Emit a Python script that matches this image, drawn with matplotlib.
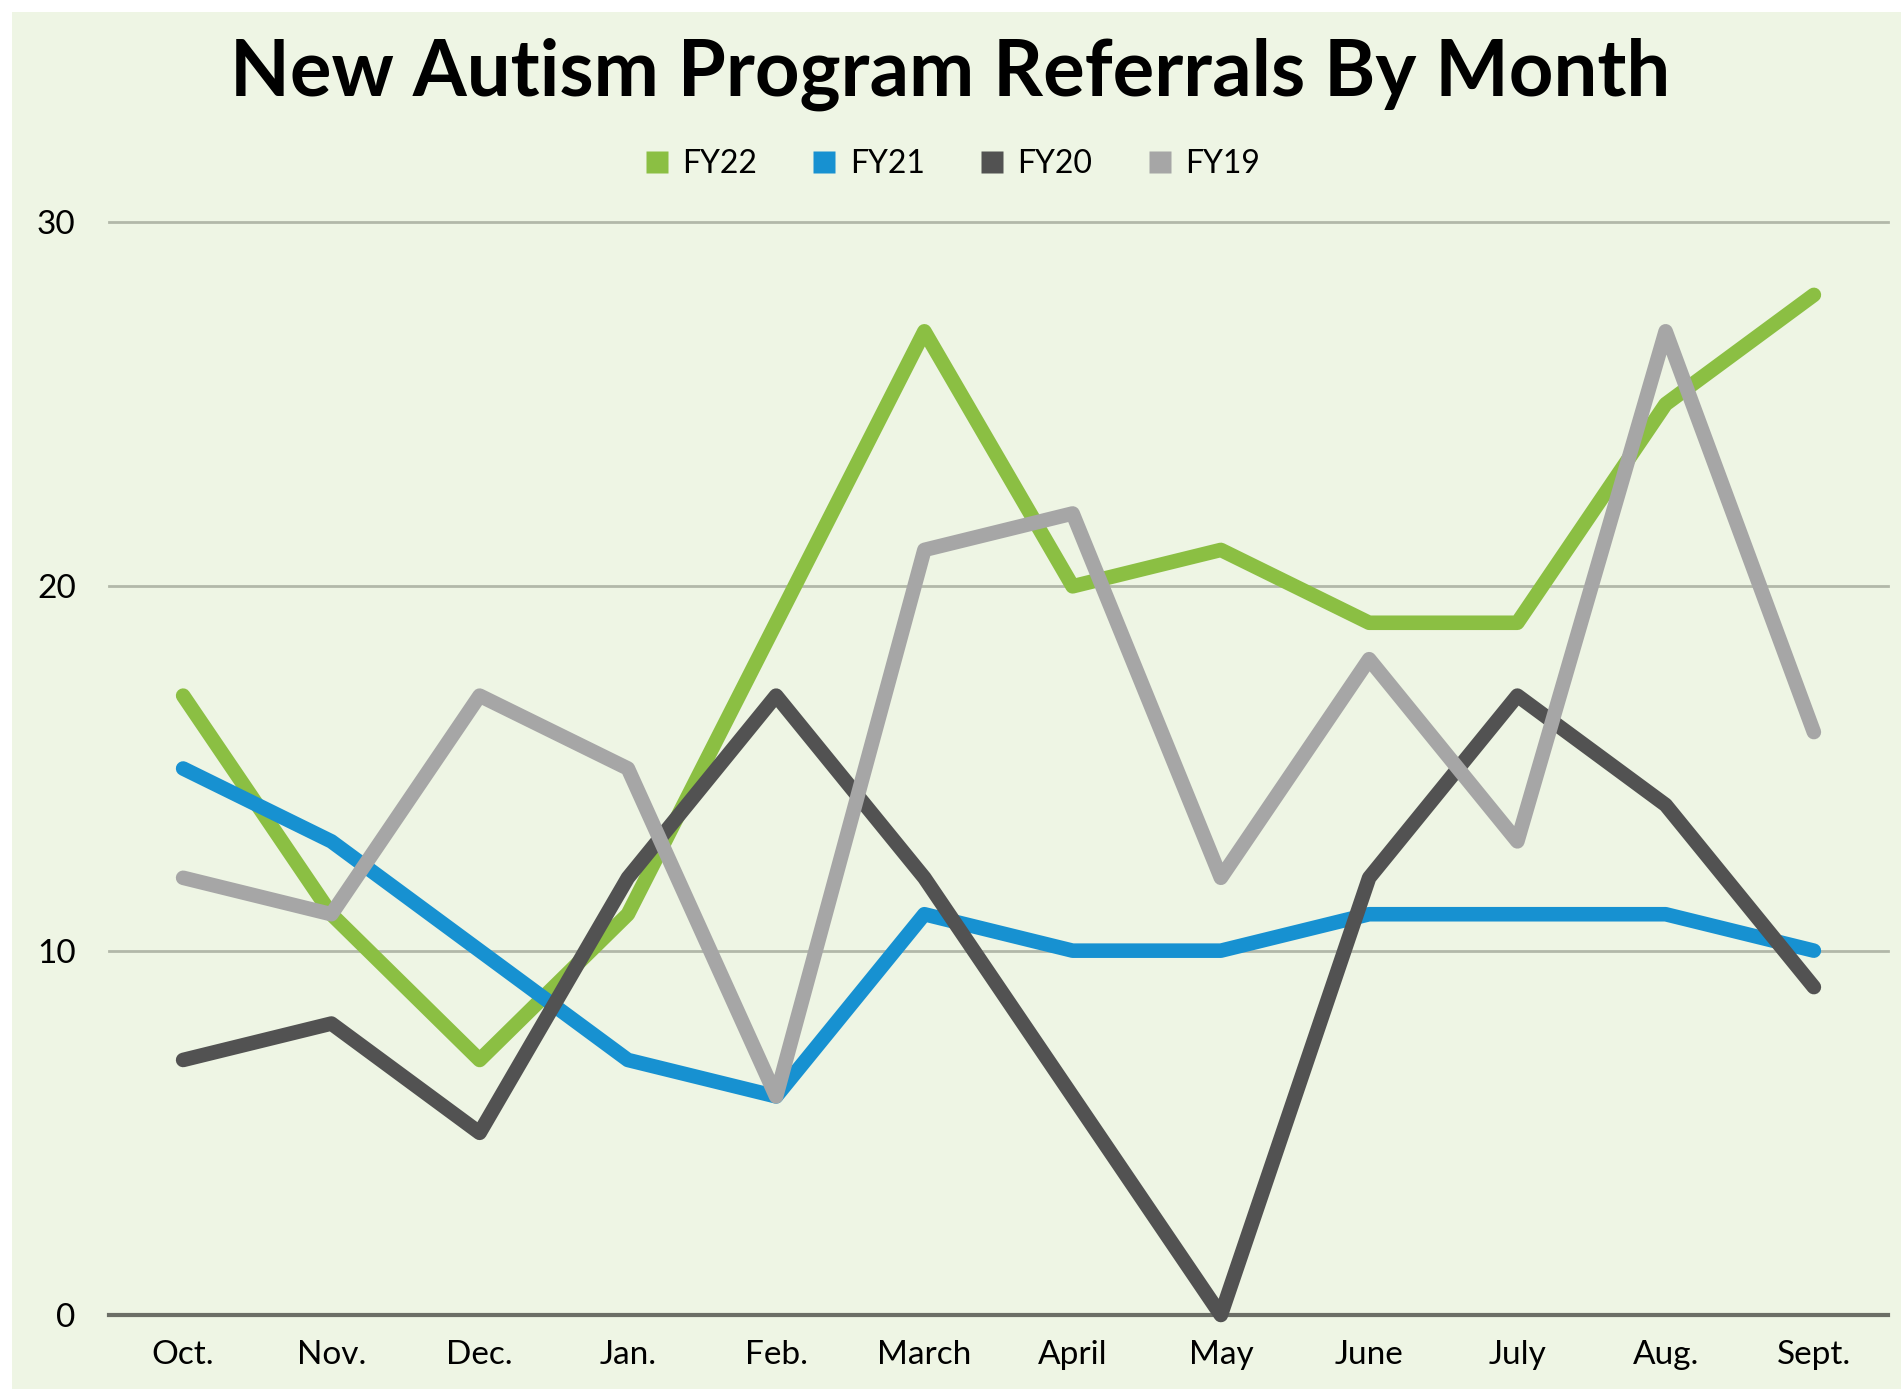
import matplotlib.pyplot as plt
from matplotlib.patches import Rectangle
from matplotlib.lines import Line2D

# Datos
months = ["Oct.", "Nov.", "Dec.", "Jan.", "Feb.", "March", "April", "May", "June", "July", "Aug.", "Sept."]
fy22 = [17, 11, 7, 11, 19, 27, 20, 21, 19, 19, 25, 28]
fy21 = [15, 13, 10, 7, 6, 11, 10, 10, 11, 11, 11, 10]
fy20 = [7, 8, 5, 12, 17, 12, 6, 0, 12, 17, 14, 9]
fy19 = [12, 11, 17, 15, 6, 21, 22, 12, 18, 13, 27, 16]

series = [("FY22", fy22, "#8BBF43"), ("FY21", fy21, "#1791D1"),
          ("FY20", fy20, "#525252"), ("FY19", fy19, "#A6A6A6")]

BG = "#EEF5E4"
plt.rcParams['font.family'] = ['Lato', 'DejaVu Sans']

fig = plt.figure(figsize=(19.01, 13.89), dpi=100, facecolor="white")
# fondo verde claro con un pequeno borde blanco arriba e izquierda
fig.patches.append(Rectangle((12 / 1901, 0), 1, 1 - 12 / 1389, transform=fig.transFigure,
                             facecolor=BG, edgecolor="none", zorder=-10))

ax = fig.add_axes([109 / 1901, 74 / 1389, (1888 - 109) / 1901, (1315 - 222) / 1389])
ax.set_facecolor("none")
ax.set_zorder(1)
x = list(range(len(months)))
for name, vals, col in series:
    ax.plot(x, vals, color=col, lw=10.5, solid_capstyle="round", solid_joinstyle="round",
            zorder=3, clip_on=False)

ax.set_xlim(-0.5, 11.5)
ax.set_ylim(0, 30)
ax.set_yticks([0, 10, 20, 30])
ax.set_xticks(x)
ax.set_xticklabels(months, fontsize=24)
ax.tick_params(axis="y", labelsize=24, length=0, pad=24)
ax.tick_params(axis="x", length=0, pad=18)
for yv in [10, 20, 30]:
    ax.axhline(yv, color="#B2B8A9", lw=2, zorder=1, clip_on=False)
ax.axhline(0, color="#6B6E66", lw=3, zorder=2, clip_on=False)
for s in ax.spines.values():
    s.set_visible(False)

fig.text(0.5, 1 - 74 / 1389, "New Autism Program Referrals By Month", ha="center", va="center",
         fontsize=56, fontweight="bold")

handles = [Line2D([0], [0], marker="s", color="none", markerfacecolor=c, markeredgecolor="none",
                  markersize=16) for _, _, c in series]
fig.legend(handles, [n for n, _, _ in series], loc="center", bbox_to_anchor=(0.5, 1 - 164 / 1389),
           ncol=4, frameon=False, fontsize=23, handletextpad=0.3, columnspacing=1.6, handlelength=1)

fig.savefig("out.png", dpi=100, facecolor="white")
